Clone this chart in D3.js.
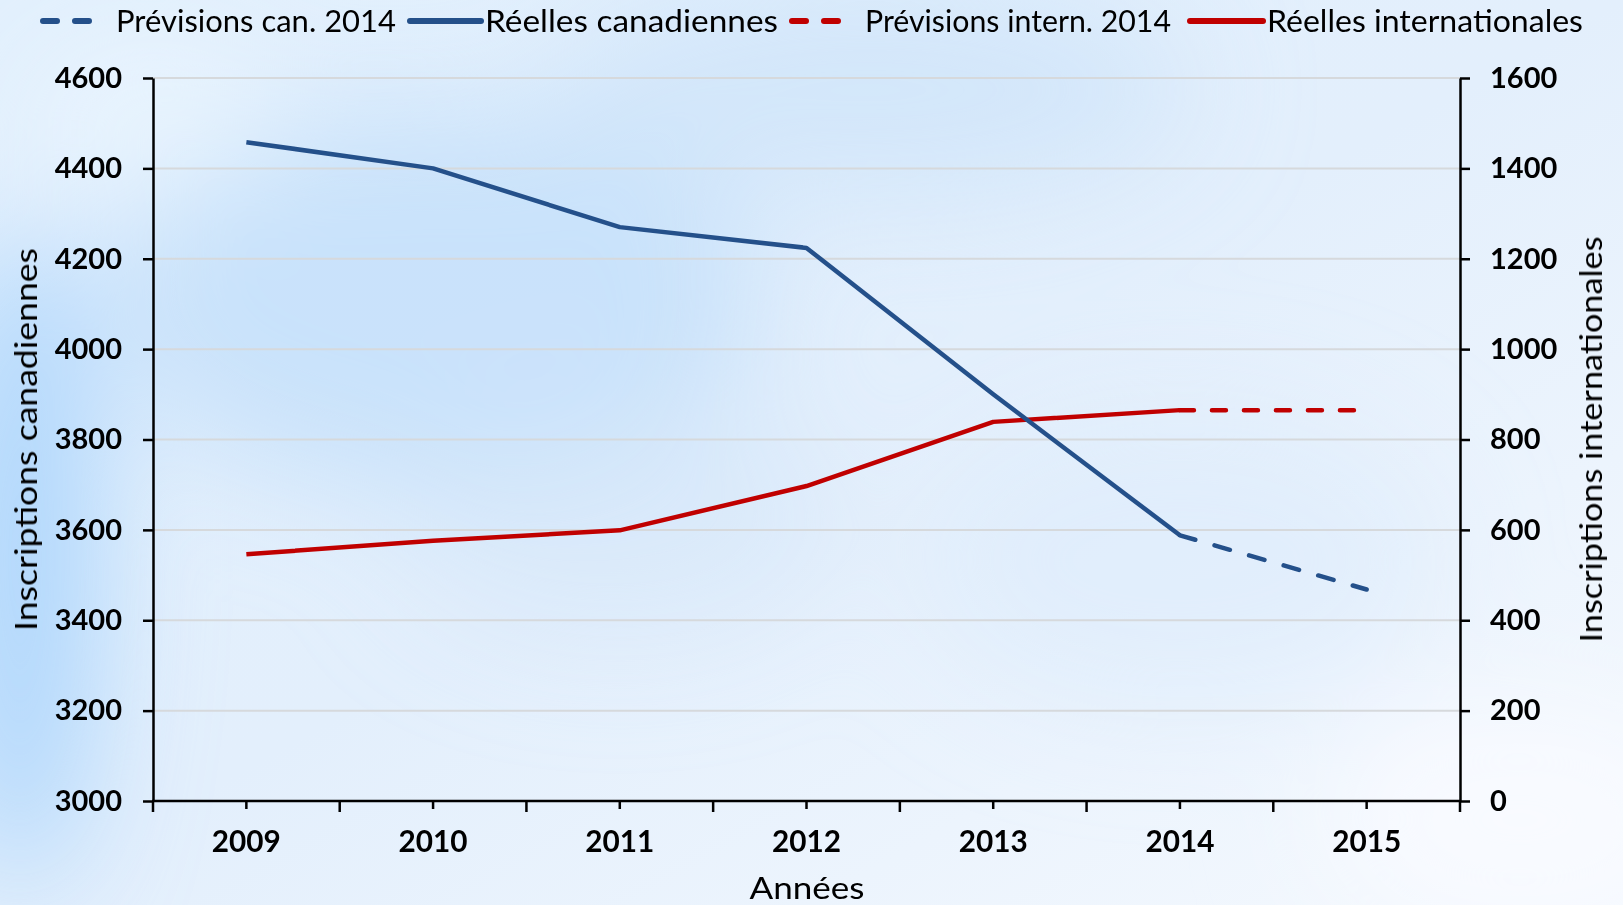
<!DOCTYPE html>
<html><head><meta charset="utf-8">
<script src="https://cdn.jsdelivr.net/npm/d3@7"></script>
<style>
html,body{margin:0;padding:0;width:1623px;height:905px;overflow:hidden;}
svg{display:block;}
</style></head>
<body>
<svg id="c" width="1623" height="905"></svg>
<script>
// ---- data ----
const years = ["2009","2010","2011","2012","2013","2014","2015"];
const canActual = [4458, 4400, 4270, 4224, 3900, 3588, null];
const canForecast = [null, null, null, null, null, 3588, 3468];
const intActual = [546, 576, 599, 697, 839, 865, null];
const intForecast = [null, null, null, null, null, 865, 865];
const leftTicks = [3000, 3200, 3400, 3600, 3800, 4000, 4200, 4400, 4600];
const rightTicks = [0, 200, 400, 600, 800, 1000, 1200, 1400, 1600];
const legendLabels = ["Prévisions can. 2014", "Réelles canadiennes", "Prévisions intern. 2014", "Réelles internationales"];
const xTitle = "Années";
const yLeftTitle = "Inscriptions canadiennes";
const yRightTitle = "Inscriptions internationales";

const BLUE = "#24508a", RED = "#c00000";
const svg = d3.select("#c");

// ---- background ----
const defs = svg.append("defs");
const lg = defs.append("linearGradient").attr("id","bg").attr("x1","0").attr("y1","0").attr("x2","1").attr("y2","1");
lg.append("stop").attr("offset","0").attr("stop-color","#e2f0fd");
lg.append("stop").attr("offset","0.5").attr("stop-color","#e3effc");
lg.append("stop").attr("offset","1").attr("stop-color","#f5f9fe");
const bl = defs.append("filter").attr("id","blur").attr("x","-50%").attr("y","-50%").attr("width","200%").attr("height","200%");
bl.append("feGaussianBlur").attr("stdDeviation", 60);
svg.append("rect").attr("width",1623).attr("height",905).attr("fill","url(#bg)");
const blobs = svg.append("g").attr("filter","url(#blur)");
[[430,300,330,190,"#c3defa",0.8],[870,90,320,110,"#cce3f9",0.7],[20,560,70,330,"#a4d0fc",0.9],
 [1180,560,260,150,"#dcebfb",0.6],[620,520,220,120,"#d2e6fa",0.5],[1520,820,200,120,"#f8fbff",0.9],
 [150,120,120,70,"#ecf6fe",0.8]].forEach(b=>{
  blobs.append("ellipse").attr("cx",b[0]).attr("cy",b[1]).attr("rx",b[2]).attr("ry",b[3]).attr("fill",b[4]).attr("opacity",b[5]);
});

// ---- scales ----
const L = 153, R = 1460, T = 78, B = 801;
const x = d3.scaleBand().domain(years).range([L, R]).padding(0);
const cx = d => x(d) + x.bandwidth()/2;
const yL = d3.scaleLinear().domain([3000, 4600]).range([B, T]);
const yR = d3.scaleLinear().domain([0, 1600]).range([B, T]);

// gridlines
svg.append("g").selectAll("line").data(leftTicks.slice(1)).join("line")
  .attr("x1", L).attr("x2", R).attr("y1", d=>yL(d)).attr("y2", d=>yL(d))
  .attr("stroke","#d6d9dc").attr("stroke-width",2);

// ---- axes ----
const font = "Lato, 'Open Sans', sans-serif";
const fmt = d3.format("d");
const gL = svg.append("g").attr("transform",`translate(${L},0)`)
  .call(d3.axisLeft(yL).tickValues(leftTicks).tickFormat(fmt).tickSize(10).tickPadding(21).tickSizeOuter(0));
const gR = svg.append("g").attr("transform",`translate(${R},0)`)
  .call(d3.axisRight(yR).tickValues(rightTicks).tickFormat(fmt).tickSize(10).tickPadding(20).tickSizeOuter(0));
[gL, gR].forEach(g=>{
  g.select(".domain").attr("stroke","#000").attr("stroke-width",2.5);
  g.selectAll(".tick line").attr("stroke","#000").attr("stroke-width",2.5);
  g.selectAll(".tick text").attr("font-family",font).attr("font-weight","bold").attr("font-size",29).attr("fill","#000");
});
const gB = svg.append("g").attr("transform",`translate(0,${B})`)
  .call(d3.axisBottom(x).tickSize(8).tickPadding(22).tickSizeOuter(0));
gB.select(".domain").attr("stroke","#000").attr("stroke-width",2.5).attr("d",`M${L-1},0H${R+1}`);
gB.selectAll(".tick line").attr("stroke","#000").attr("stroke-width",2.5);
gB.selectAll(".tick text").attr("font-family",font).attr("font-weight","bold").attr("font-size",30).attr("fill","#000")
  .attr("textLength",69).attr("lengthAdjust","spacingAndGlyphs");
// boundary ticks
const bounds = years.map(d=>x(d)).concat([R]);
svg.append("g").selectAll("line").data(bounds).join("line")
  .attr("x1",d=>d).attr("x2",d=>d).attr("y1",B).attr("y2",B+11)
  .attr("stroke","#000").attr("stroke-width",2.5);

// ---- titles ----
svg.append("text").attr("x", 807).attr("y", 899).attr("text-anchor","middle")
  .attr("font-family",font).attr("font-size",31).attr("fill","#000")
  .attr("textLength",115).attr("lengthAdjust","spacingAndGlyphs").text(xTitle);
svg.append("text").attr("transform",`translate(37,${(T+B)/2}) rotate(-90)`).attr("text-anchor","middle")
  .attr("font-family",font).attr("font-size",31).attr("fill","#000")
  .attr("textLength",383).attr("lengthAdjust","spacingAndGlyphs").text(yLeftTitle);
svg.append("text").attr("transform",`translate(1602,${(T+B)/2}) rotate(-90)`).attr("text-anchor","middle")
  .attr("font-family",font).attr("font-size",31).attr("fill","#000")
  .attr("textLength",406).attr("lengthAdjust","spacingAndGlyphs").text(yRightTitle);

// ---- lines ----
const mk = (arr) => years.map((y,i)=>({y, v:arr[i]})).filter(d=>d.v!=null);
const line = sc => d3.line().x(d=>cx(d.y)).y(d=>sc(d.v));
const series = [
  {data: mk(intActual), sc: yR, color: RED, dash: null},
  {data: mk(intForecast), sc: yR, color: RED, dash: "14,18"},
  {data: mk(canActual), sc: yL, color: BLUE, dash: null},
  {data: mk(canForecast), sc: yL, color: BLUE, dash: "16,20"},
];
series.forEach(s=>{
  svg.append("path").datum(s.data).attr("d", line(s.sc)).attr("fill","none")
    .attr("stroke", s.color).attr("stroke-width", 4.5).attr("stroke-linejoin","round")
    .attr("stroke-linecap", s.dash ? "round" : "butt")
    .attr("stroke-dasharray", s.dash);
});

// ---- legend ----
const leg = [
  {label: legendLabels[0], color: BLUE, dash: "14,18", x1: 43, x2: 103, tx: 116, tw: 280},
  {label: legendLabels[1], color: BLUE, dash: null, x1: 410, x2: 481, tx: 485, tw: 293},
  {label: legendLabels[2], color: RED, dash: "14,18", x1: 792, x2: 855, tx: 865, tw: 306},
  {label: legendLabels[3], color: RED, dash: null, x1: 1190, x2: 1263, tx: 1267, tw: 316},
];
const lgG = svg.append("g");
leg.forEach(l=>{
  lgG.append("line").attr("x1",l.x1).attr("x2",l.x2).attr("y1",21).attr("y2",21)
    .attr("stroke",l.color).attr("stroke-width",6).attr("stroke-linecap","round").attr("stroke-dasharray",l.dash);
  lgG.append("text").attr("x",l.tx).attr("y",32).attr("font-family",font).attr("font-size",30)
    .attr("fill","#000").attr("textLength",l.tw).attr("lengthAdjust","spacingAndGlyphs").text(l.label);
});
</script>
</body></html>
